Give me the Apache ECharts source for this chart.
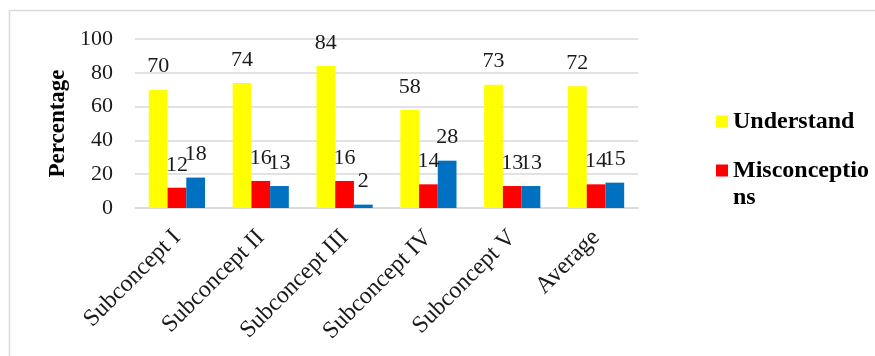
<!DOCTYPE html>
<html>
<head>
<meta charset="utf-8">
<script src="https://cdn.jsdelivr.net/npm/echarts@6/dist/echarts.min.js"></script>
<style>
  html, body { margin: 0; padding: 0; background: #fff; }
  #chart { width: 875px; height: 356px; }
</style>
</head>
<body>
<div id="chart"></div>
<script>
  const categories = ['Subconcept I', 'Subconcept II', 'Subconcept III', 'Subconcept IV', 'Subconcept V', 'Average'];
  const understand = [70, 74, 84, 58, 73, 72];
  const misconceptions = [12, 16, 16, 14, 13, 14];
  const notUnderstand = [18, 13, 2, 28, 13, 15];

  const font = '"Liberation Serif", "Times New Roman", serif';
  const labelStyle = {
    show: true,
    position: 'top',
    distance: 12,
    fontFamily: font,
    fontSize: 22,
    color: '#1a1a1a'
  };
  const legendText = { fontFamily: font, fontSize: 24, fontWeight: 'bold', color: '#000', lineHeight: 27 };

  const chart = echarts.init(document.getElementById('chart'));
  chart.setOption({
    animation: false,
    graphic: [{
      type: 'rect',
      shape: { x: 9.5, y: 10.5, width: 900, height: 400 },
      style: { fill: 'none', stroke: '#d9d9d9', lineWidth: 1.5 },
      silent: true
    }],
    legend: [{
      orient: 'vertical',
      left: 711,
      top: 103,
      itemWidth: 12,
      itemHeight: 12,
      icon: 'rect',
      data: ['Understand'],
      textStyle: legendText
    }, {
      orient: 'vertical',
      left: 711,
      top: 125,
      itemWidth: 12,
      itemHeight: 12,
      icon: 'rect',
      data: ['Misconceptions'],
      // blank first line keeps the marker level with the first text line
      formatter: function (name) { return '\nMisconceptio\nns'; },
      textStyle: legendText
    }],
    grid: {
      left: 135,
      right: 237,
      top: 39,
      bottom: 148
    },
    xAxis: {
      type: 'category',
      data: categories,
      axisLine: { lineStyle: { color: '#d9d9d9', width: 1.5 } },
      axisTick: { show: false },
      axisLabel: {
        rotate: 45,
        margin: 26,
        fontFamily: font,
        fontSize: 24,
        color: '#1a1a1a'
      }
    },
    yAxis: {
      type: 'value',
      min: 0,
      max: 100,
      interval: 20,
      name: 'Percentage',
      nameLocation: 'middle',
      nameGap: 62,
      nameTextStyle: { fontFamily: font, fontSize: 23, fontWeight: 'bold', color: '#000' },
      axisLabel: { fontFamily: font, fontSize: 22, color: '#1a1a1a', margin: 22 },
      splitLine: { lineStyle: { color: '#d9d9d9', width: 1.5 } }
    },
    series: [
      {
        name: 'Understand',
        type: 'bar',
        data: understand,
        barGap: '0%',
        barCategoryGap: '33%',
        itemStyle: { color: '#ffff00' },
        label: labelStyle
      },
      {
        name: 'Misconceptions',
        type: 'bar',
        data: misconceptions,
        barGap: '0%',
        barCategoryGap: '33%',
        itemStyle: { color: '#ff0000' },
        label: labelStyle
      },
      {
        name: 'Not understand',
        type: 'bar',
        data: notUnderstand,
        barGap: '0%',
        barCategoryGap: '33%',
        itemStyle: { color: '#0070c0' },
        label: labelStyle
      }
    ]
  });
</script>
</body>
</html>
